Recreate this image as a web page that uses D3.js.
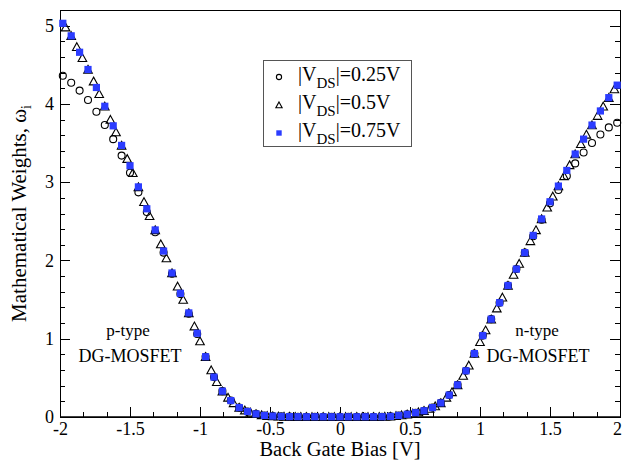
<!DOCTYPE html>
<html>
<head>
<meta charset="utf-8">
<script src="https://cdn.jsdelivr.net/npm/d3@7"></script>
<style>
  html, body { margin: 0; padding: 0; background: #fff; }
  svg { display: block; font-family: "Liberation Serif", "DejaVu Serif", serif; }
</style>
</head>
<body>
<svg id="chart" width="622" height="463"></svg>
<script>
// ---- data ----
const xCoarse = [-1.98,-1.92,-1.86,-1.80,-1.74,-1.68,-1.62,-1.56,-1.50,-1.44,-1.38,-1.32,-1.26,-1.20,-1.14,-1.08,-1.02,-0.96,-0.90,-0.84,-0.78,-0.72,-0.66,-0.60,-0.54,-0.48,-0.42,-0.36,-0.30,-0.24,-0.18,-0.12,-0.06,0,0.06,0.12,0.18,0.24,0.30,0.36,0.42,0.48,0.54,0.60,0.66,0.72,0.78,0.84,0.90,0.96,1.02,1.08,1.14,1.20,1.26,1.32,1.38,1.44,1.50,1.56,1.62,1.68,1.74,1.80,1.86,1.92,1.98];

const w075 = [5.03,4.87,4.66,4.44,4.21,3.97,3.72,3.47,3.21,2.94,2.66,2.39,2.12,1.84,1.58,1.33,1.07,0.77,0.51,0.33,0.21,0.12,0.07,0.04,0.02,0.012,0.008,0.005,0.004,0.003,0.003,0.003,0.003,0.003,0.003,0.003,0.003,0.003,0.004,0.008,0.02,0.035,0.055,0.08,0.12,0.18,0.28,0.41,0.59,0.81,1.04,1.25,1.46,1.68,1.89,2.10,2.32,2.53,2.75,2.95,3.15,3.36,3.55,3.73,3.91,4.08,4.24];

const w025 = [4.36,4.27,4.17,4.05,3.90,3.73,3.55,3.34,3.12,2.87,2.62,2.36,2.10,1.83,1.57,1.32,1.06,0.77,0.51,0.33,0.21,0.12,0.07,0.04,0.02,0.012,0.008,0.005,0.004,0.003,0.003,0.003,0.003,0.003,0.003,0.003,0.003,0.003,0.004,0.008,0.02,0.035,0.055,0.08,0.12,0.18,0.28,0.41,0.59,0.81,1.04,1.25,1.46,1.68,1.89,2.10,2.31,2.52,2.73,2.90,3.08,3.24,3.38,3.50,3.61,3.70,3.76];

const xFine = [-1.96,-1.92,-1.88,-1.84,-1.80,-1.76,-1.72,-1.68,-1.64,-1.60,-1.56,-1.52,-1.48,-1.44,-1.40,-1.36,-1.32,-1.28,-1.24,-1.20,-1.16,-1.12,-1.08,-1.04,-1.00,-0.96,-0.92,-0.88,-0.84,-0.80,-0.76,-0.72,-0.68,-0.64,-0.60,-0.56,-0.52,-0.48,-0.44,-0.40,-0.36,-0.32,-0.28,-0.24,-0.20,-0.16,-0.12,-0.08,-0.04,0,0.04,0.08,0.12,0.16,0.20,0.24,0.28,0.32,0.36,0.40,0.44,0.48,0.52,0.56,0.60,0.64,0.68,0.72,0.76,0.80,0.84,0.88,0.92,0.96,1.00,1.04,1.08,1.12,1.16,1.20,1.24,1.28,1.32,1.36,1.40,1.44,1.48,1.52,1.56,1.60,1.64,1.68,1.72,1.76,1.80,1.84,1.88,1.92,1.96];

const w050 = [4.98,4.87,4.73,4.59,4.44,4.29,4.13,3.97,3.80,3.64,3.47,3.30,3.12,2.94,2.75,2.57,2.39,2.21,2.03,1.84,1.67,1.50,1.33,1.16,0.97,0.77,0.60,0.45,0.33,0.25,0.18,0.12,0.087,0.06,0.04,0.027,0.017,0.012,0.009,0.007,0.005,0.004,0.004,0.003,0.003,0.003,0.003,0.003,0.003,0.003,0.003,0.003,0.003,0.003,0.003,0.003,0.004,0.005,0.008,0.016,0.025,0.035,0.048,0.063,0.08,0.107,0.14,0.18,0.25,0.32,0.41,0.53,0.66,0.81,0.96,1.11,1.25,1.39,1.53,1.68,1.82,1.96,2.10,2.25,2.39,2.53,2.68,2.82,2.95,3.08,3.22,3.36,3.49,3.61,3.73,3.85,3.97,4.08,4.19];

const xTicks = [-2,-1.5,-1,-0.5,0,0.5,1,1.5,2];
const xTickLabels = ["-2","-1.5","-1","-0.5","0","0.5","1","1.5","2"];
const yTicks = [0,1,2,3,4,5];
const yTickLabels = ["0","1","2","3","4","5"];
const seriesNames = ["0.25V","0.5V","0.75V"];

// ---- layout ----
const L = 60, R = 620, T = 10, B = 417;
const svg = d3.select("#chart");
const x = d3.scaleLinear().domain([-2, 2]).range([L, R]);
const y = d3.scaleLinear().domain([0, 5.2]).range([B, T]);

const xMinor = d3.range(0, 25).map(i => -2 + i / 6).filter(v => xTicks.every(t => Math.abs(t - v) > 1e-6));
const yMinor = d3.range(0, 27).map(i => i * 0.2).filter(v => v <= 5.2 && yTicks.every(t => Math.abs(t - v) > 1e-6));

const fontTick = 18;
// bottom axis
const gx = svg.append("g").attr("transform", `translate(0,${B})`)
  .call(d3.axisBottom(x).tickValues(xTicks).tickFormat((d, i) => xTickLabels[i]).tickSize(-10).tickPadding(5));
gx.selectAll(".tick text").filter(d => d === 2).attr("dx", -3);
svg.append("g").attr("transform", `translate(0,${B})`)
  .call(d3.axisBottom(x).tickValues(xMinor).tickFormat("").tickSize(-5));
// left axis
svg.append("g").attr("transform", `translate(${L},0)`)
  .call(d3.axisLeft(y).tickValues(yTicks).tickFormat((d, i) => yTickLabels[i]).tickSize(-10).tickPadding(6));
svg.append("g").attr("transform", `translate(${L},0)`)
  .call(d3.axisLeft(y).tickValues(yMinor).tickFormat("").tickSize(-5));
// right axis (ticks only)
svg.append("g").attr("transform", `translate(${R},0)`)
  .call(d3.axisRight(y).tickValues(yTicks).tickFormat("").tickSize(-10));
svg.append("g").attr("transform", `translate(${R},0)`)
  .call(d3.axisRight(y).tickValues(yMinor).tickFormat("").tickSize(-5));

svg.selectAll(".domain").remove();
svg.selectAll(".tick line").attr("stroke", "#000").attr("stroke-width", 1).attr("shape-rendering", "crispEdges");
svg.selectAll(".tick text").attr("font-family", "Liberation Serif").attr("font-size", fontTick).attr("fill", "#000");

// frame
svg.append("rect").attr("x", L).attr("y", T).attr("width", R - L).attr("height", B - T)
  .attr("fill", "none").attr("stroke", "#000").attr("stroke-width", 1).attr("shape-rendering", "crispEdges");
svg.append("line").attr("x1", L).attr("x2", R).attr("y1", B).attr("y2", B)
  .attr("stroke", "#000").attr("stroke-width", 1.6);

// axis titles
svg.append("text").attr("x", (L + R) / 2).attr("y", 456).attr("text-anchor", "middle")
  .attr("font-size", 20.5).text("Back Gate Bias [V]");
const yt = svg.append("text").attr("transform", `translate(26,${(T + B) / 2}) rotate(-90)`)
  .attr("text-anchor", "middle").attr("font-size", 21);
yt.append("tspan").text("Mathematical Weights, \u03C9");
yt.append("tspan").attr("font-size", 14).attr("dy", 5).text("i");

// annotations
svg.append("text").attr("x", 128).attr("y", 336).attr("text-anchor", "middle").attr("font-size", 17).text("p-type");
svg.append("text").attr("x", 130).attr("y", 362).attr("text-anchor", "middle").attr("font-size", 18).text("DG-MOSFET");
svg.append("text").attr("x", 537).attr("y", 336).attr("text-anchor", "middle").attr("font-size", 17).text("n-type");
svg.append("text").attr("x", 538).attr("y", 362).attr("text-anchor", "middle").attr("font-size", 18).text("DG-MOSFET");

// markers
const blue = "#2b3cff";
const triPath = s => `M0,${-s} L${s * 1.05},${s * 0.9} L${-s * 1.05},${s * 0.9} Z`;
const plot = svg.append("g");

plot.selectAll("circle.c025").data(xCoarse.map((v, i) => [v, w025[i]])).join("circle")
  .attr("class", "c025").attr("cx", d => x(d[0])).attr("cy", d => y(d[1])).attr("r", 3.5)
  .attr("fill", "none").attr("stroke", "#000").attr("stroke-width", 1.1);

plot.selectAll("path.t050").data(xFine.map((v, i) => [v, w050[i]])).join("path")
  .attr("class", "t050").attr("transform", d => `translate(${x(d[0])},${y(d[1])})`)
  .attr("d", triPath(4.1)).attr("fill", "none").attr("stroke", "#000").attr("stroke-width", 1.1);

plot.selectAll("rect.s075").data(xCoarse.map((v, i) => [v, w075[i]])).join("rect")
  .attr("class", "s075").attr("x", d => x(d[0]) - 3.6).attr("y", d => y(d[1]) - 3.6)
  .attr("width", 7.2).attr("height", 7.2).attr("fill", blue);

// legend
const lg = svg.append("g");
lg.append("rect").attr("x", 263.5).attr("y", 60.5).attr("width", 148).attr("height", 86)
  .attr("fill", "#fff").attr("stroke", "#555").attr("stroke-width", 1);
const rows = [77, 105, 133];
lg.append("circle").attr("cx", 279).attr("cy", rows[0]).attr("r", 2.6).attr("fill", "none").attr("stroke", "#000").attr("stroke-width", 1.1);
lg.append("path").attr("transform", `translate(279,${rows[1]})`).attr("d", triPath(3)).attr("fill", "none").attr("stroke", "#000").attr("stroke-width", 1.1);
lg.append("rect").attr("x", 276.3).attr("y", rows[2] - 2.7).attr("width", 5.4).attr("height", 5.4).attr("fill", blue);
seriesNames.forEach((nm, i) => {
  const t = lg.append("text").attr("x", 298).attr("y", rows[i] + 4).attr("font-size", 20);
  t.append("tspan").text("|V");
  t.append("tspan").attr("font-size", 15).attr("dy", 7).text("DS");
  t.append("tspan").attr("dy", -7).text("|=" + nm);
});
</script>
</body>
</html>
